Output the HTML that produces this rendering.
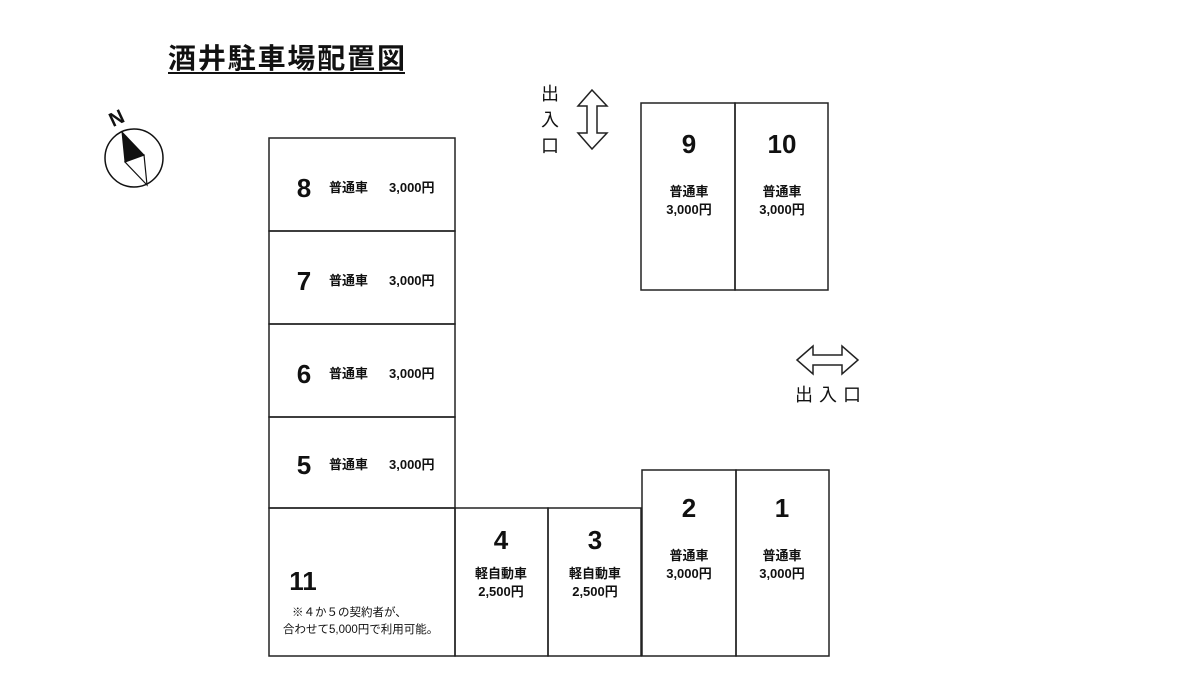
<!DOCTYPE html>
<html><head><meta charset="utf-8"><style>
body{margin:0;background:#fff}
svg text{font-family:"Liberation Sans","Noto Sans CJK JP",sans-serif;fill:#111}
.n{font-size:26px;font-weight:bold;text-anchor:middle}
.l{font-size:13px;font-weight:bold;text-anchor:middle}
.l2{font-size:13px;font-weight:bold}
</style></head><body>
<svg width="1200" height="675" viewBox="0 0 1200 675" xmlns="http://www.w3.org/2000/svg">
<text x="168" y="68" style="font-size:28px;font-weight:bold" textLength="237">酒井駐車場配置図</text>
<line x1="168" y1="73" x2="405" y2="73" stroke="#111" stroke-width="2"/>
<text x="116" y="125" transform="rotate(-25 116 117)" style="font-size:20px;font-weight:bold" text-anchor="middle">N</text>
<circle cx="134" cy="158" r="29" fill="none" stroke="#111" stroke-width="1.5"/>
<polygon points="122,132 144,155 125,162" fill="#111" stroke="#111"/>
<polygon points="125,162 144,155 147,185" fill="#fff" stroke="#111" stroke-width="1.2"/>
<g fill="none" stroke="#222" stroke-width="1.5">
<rect x="269" y="138" width="186" height="93"/>
<rect x="269" y="231" width="186" height="93"/>
<rect x="269" y="324" width="186" height="93"/>
<rect x="269" y="417" width="186" height="91"/>
<rect x="269" y="508" width="186" height="148"/>
<rect x="455" y="508" width="93" height="148"/>
<rect x="548" y="508" width="93" height="148"/>
<rect x="642" y="470" width="94" height="186"/>
<rect x="736" y="470" width="93" height="186"/>
<rect x="641" y="103" width="94" height="187"/>
<rect x="735" y="103" width="93" height="187"/>
<polygon points="592,90 607,106 597,106 597,133 607,133 592,149 578,133 587,133 587,106 578,106"/>
<polygon points="797,360 813,346 813,355 842,355 842,346 858,360 842,374 842,365 813,365 813,374"/>
</g>
<g style="font-size:18px" fill="#333">
<text x="541" y="100">出</text><text x="541" y="126">入</text><text x="541" y="152">口</text>
<text x="795" y="401" textLength="66">出入口</text>
</g>
<text class="n" x="304" y="197">8</text><text class="l2" x="329" y="192">普通車</text><text class="l2" x="389" y="192">3,000円</text>
<text class="n" x="304" y="290">7</text><text class="l2" x="329" y="285">普通車</text><text class="l2" x="389" y="285">3,000円</text>
<text class="n" x="304" y="383">6</text><text class="l2" x="329" y="378">普通車</text><text class="l2" x="389" y="378">3,000円</text>
<text class="n" x="304" y="474">5</text><text class="l2" x="329" y="469">普通車</text><text class="l2" x="389" y="469">3,000円</text>
<text class="n" x="303" y="590">11</text>
<text x="292" y="616" style="font-size:11.5px">※４か５の契約者が、</text>
<text x="283" y="633" style="font-size:11.5px">合わせて5,000円で利用可能。</text>
<text class="n" x="501" y="549">4</text><text class="l" x="501" y="578">軽自動車</text><text class="l" x="501" y="596">2,500円</text>
<text class="n" x="595" y="549">3</text><text class="l" x="595" y="578">軽自動車</text><text class="l" x="595" y="596">2,500円</text>
<text class="n" x="689" y="517">2</text><text class="l" x="689" y="560">普通車</text><text class="l" x="689" y="578">3,000円</text>
<text class="n" x="782" y="517">1</text><text class="l" x="782" y="560">普通車</text><text class="l" x="782" y="578">3,000円</text>
<text class="n" x="689" y="153">9</text><text class="l" x="689" y="196">普通車</text><text class="l" x="689" y="214">3,000円</text>
<text class="n" x="782" y="153">10</text><text class="l" x="782" y="196">普通車</text><text class="l" x="782" y="214">3,000円</text>
</svg>
</body></html>
